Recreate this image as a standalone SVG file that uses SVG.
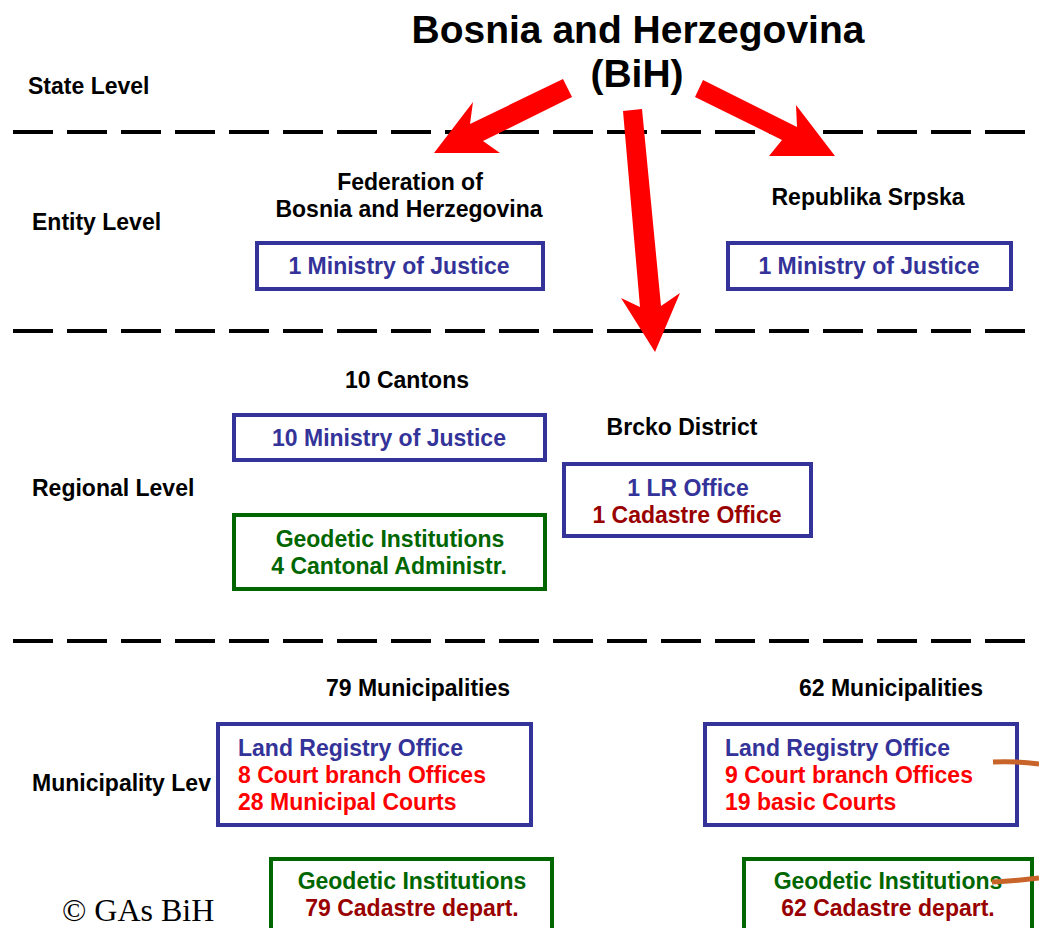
<svg xmlns="http://www.w3.org/2000/svg" width="1039" height="928" viewBox="0 0 1039 928">
<style>
text{font-family:"Liberation Sans",Arial,sans-serif;font-weight:bold}
.lbl{font-size:23px;fill:#000}
.title{font-size:39px;fill:#000;text-anchor:middle}
.c{text-anchor:middle}
.b{font-size:23px;fill:#333399}
.r{font-size:23px;fill:#ff0000}
.dr{font-size:23px;fill:#990000}
.g{font-size:23px;fill:#006600}
.bb{fill:#fff;stroke:#333399;stroke-width:4}
.gb{fill:#fff;stroke:#006600;stroke-width:4}
.dash{stroke:#000;stroke-width:4;stroke-dasharray:40 14}
.arrow{fill:#ff0000}
.orange{fill:none;stroke:#c8642a;stroke-width:5;stroke-linecap:butt}
</style>
<rect width="1039" height="928" fill="#fff"/>
<g id="levels">
<line class="dash" x1="13" y1="132" x2="1030" y2="132"/>
<line class="dash" x1="13" y1="331" x2="1030" y2="331"/>
<line class="dash" x1="13" y1="641" x2="1030" y2="641"/>
<text class="lbl" x="28" y="94">State Level</text>
<text class="lbl" x="32" y="230">Entity Level</text>
<text class="lbl" x="32" y="496">Regional Level</text>
<text class="lbl" x="32" y="791">Municipality Lev</text>
</g>
<g id="bih">
<text class="title" x="638" y="43">Bosnia and Herzegovina</text>
<text class="title" x="637" y="87">(BiH)</text>
</g>
<g id="federation">
<text class="lbl c" x="410" y="190">Federation of</text>
<text class="lbl c" x="409" y="217">Bosnia and Herzegovina</text>
<rect class="bb" x="257" y="243" width="286" height="46"/>
<text class="b c" x="399" y="274">1 Ministry of Justice</text>
</g>
<g id="srpska">
<text class="lbl c" x="868" y="205">Republika Srpska</text>
<rect class="bb" x="728" y="243" width="283" height="46"/>
<text class="b c" x="869" y="274">1 Ministry of Justice</text>
</g>
<g id="cantons">
<text class="lbl c" x="407" y="388">10 Cantons</text>
<rect class="bb" x="234" y="415" width="311" height="45"/>
<text class="b c" x="389" y="446">10 Ministry of Justice</text>
</g>
<g id="cantonal-geodetic">
<rect class="gb" x="234" y="515" width="311" height="74"/>
<text class="g c" x="390" y="547">Geodetic Institutions</text>
<text class="g c" x="389" y="574">4 Cantonal Administr.</text>
</g>
<g id="brcko">
<text class="lbl c" x="682" y="435">Brcko District</text>
<rect class="bb" x="564" y="464" width="247" height="72"/>
<text class="b c" x="688" y="496">1 LR Office</text>
<text class="dr c" x="687" y="523">1 Cadastre Office</text>
</g>
<g id="fed-municipalities">
<text class="lbl c" x="418" y="696">79 Municipalities</text>
<rect class="bb" x="218" y="724" width="313" height="101"/>
<text class="b" x="238" y="756">Land Registry Office</text>
<text class="r" x="238" y="783">8 Court branch Offices</text>
<text class="r" x="238" y="810">28 Municipal Courts</text>
</g>
<g id="fed-geodetic">
<rect class="gb" x="271" y="859" width="281" height="80"/>
<text class="g c" x="412" y="889">Geodetic Institutions</text>
<text class="dr c" x="412" y="916">79 Cadastre depart.</text>
</g>
<g id="rs-municipalities">
<text class="lbl c" x="891" y="696">62 Municipalities</text>
<rect class="bb" x="705" y="724" width="312" height="101"/>
<text class="b" x="725" y="756">Land Registry Office</text>
<text class="r" x="725" y="783">9 Court branch Offices</text>
<text class="r" x="725" y="810">19 basic Courts</text>
</g>
<g id="rs-geodetic">
<rect class="gb" x="744" y="859" width="288" height="80"/>
<text class="g c" x="888" y="889">Geodetic Institutions</text>
<text class="dr c" x="888" y="916">62 Cadastre depart.</text>
</g>
<g id="connectors">
<polygon class="arrow" points="563,79 572,97 483,141 500,153 434,153 473,102 470,124"/>
<polygon class="arrow" points="703,80 797,127 796,105 835,156 769,156 782,140 695,97"/>
<polygon class="arrow" points="623,111 642,109 661,306 680,293 655,352 621,298 640,307"/>
<path class="orange" d="M993,762 Q1016,761 1039,764"/>
<path class="orange" d="M992,882 Q1016,881 1039,878"/>
</g>
<text x="62" y="921" style="font-family:'Liberation Serif','Times New Roman',serif;font-weight:normal;font-size:32px;fill:#000">© GAs BiH</text>
</svg>
